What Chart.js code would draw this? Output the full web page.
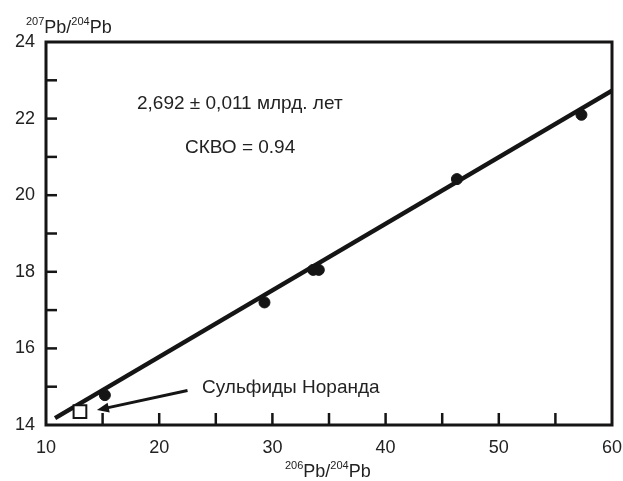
<!DOCTYPE html>
<html>
<head>
<meta charset="utf-8">
<script src="https://cdn.jsdelivr.net/npm/chart.js@4.4.0/dist/chart.umd.min.js"></script>
<style>
  html, body { margin: 0; padding: 0; background: #fff; }
  #wrap { width: 623px; height: 481px; }
</style>
</head>
<body>
<div id="wrap"><canvas id="isoChart"></canvas></div>
<script>
// measured samples, 206Pb/204Pb vs 207Pb/204Pb
const sampleX = [15.2, 29.3, 33.6, 34.1, 46.3, 57.3];
const sampleY = [14.78, 17.2, 18.05, 18.05, 20.42, 22.1];
// Noranda sulfides
const sulfideX = [13.0];
const sulfideY = [14.35];
// isochron fit endpoints
const fitX = [10.8, 60];
const fitY = [14.18, 22.73];
// arrow from label to sulfide point
const arrowX = [22.5, 14.5];
const arrowY = [14.9, 14.39];

const xTicks = [10, 20, 30, 40, 50, 60];
const yTicks = [14, 16, 18, 20, 22, 24];

const ink = '#151515';
const fontFam = '"Liberation Sans", Arial, sans-serif';

function toPoints(xs, ys) {
    return xs.map((x, i) => ({ x: x, y: ys[i] }));
}

// draws text like 207Pb/204Pb with small superscripts
function drawIsoLabel(ctx, x, baseline, a, b) {
    const parts = [[a, true], ['Pb/', false], [b, true], ['Pb', false]];
    let cx = x;
    parts.forEach(p => {
        ctx.font = (p[1] ? '11px ' : '18px ') + fontFam;
        ctx.fillText(p[0], cx, p[1] ? baseline - 8 : baseline);
        cx += ctx.measureText(p[0]).width;
    });
}

const framePlugin = {
    id: 'frame',
    afterDatasetsDraw(chart) {
        const ctx = chart.ctx;
        const a = chart.chartArea;
        const xs = chart.scales.x;
        const ys = chart.scales.y;
        ctx.save();
        ctx.strokeStyle = ink;
        ctx.fillStyle = ink;

        // inward ticks
        ctx.lineWidth = 2.5;
        xs.ticks.forEach(t => {
            const px = xs.getPixelForValue(t.value);
            if (px <= a.left + 2 || px >= a.right - 2) return;
            ctx.beginPath();
            ctx.moveTo(px, a.bottom);
            ctx.lineTo(px, a.bottom - 12);
            ctx.stroke();
        });
        ys.ticks.forEach(t => {
            const py = ys.getPixelForValue(t.value);
            if (py <= a.top + 2 || py >= a.bottom - 2) return;
            ctx.beginPath();
            ctx.moveTo(a.left, py);
            ctx.lineTo(a.left + 11, py);
            ctx.stroke();
        });

        // frame
        ctx.lineWidth = 3;
        ctx.strokeRect(a.left, a.top, a.right - a.left, a.bottom - a.top);

        // arrow
        const x0 = xs.getPixelForValue(arrowX[0]), y0 = ys.getPixelForValue(arrowY[0]);
        const x1 = xs.getPixelForValue(arrowX[1]), y1 = ys.getPixelForValue(arrowY[1]);
        const ang = Math.atan2(y1 - y0, x1 - x0);
        ctx.lineWidth = 3;
        ctx.beginPath();
        ctx.moveTo(x0, y0);
        ctx.lineTo(x1 - 8 * Math.cos(ang), y1 - 8 * Math.sin(ang));
        ctx.stroke();
        ctx.beginPath();
        ctx.moveTo(x1, y1);
        ctx.lineTo(x1 - 12 * Math.cos(ang) + 5 * Math.sin(ang), y1 - 12 * Math.sin(ang) - 5 * Math.cos(ang));
        ctx.lineTo(x1 - 12 * Math.cos(ang) - 5 * Math.sin(ang), y1 - 12 * Math.sin(ang) + 5 * Math.cos(ang));
        ctx.closePath();
        ctx.fill();

        // texts
        ctx.fillStyle = '#222';
        ctx.textBaseline = 'alphabetic';
        ctx.textAlign = 'left';
        ctx.font = '19px ' + fontFam;
        ctx.fillText('2,692 \u00b1 0,011 млрд. лет', 137, 109);
        ctx.fillText('СКВО = 0.94', 185, 153);
        ctx.fillText('Сульфиды Норанда', 202, 393);

        drawIsoLabel(ctx, 26, 33, '207', '204');
        drawIsoLabel(ctx, 285, 477, '206', '204');
        ctx.restore();
    }
};

const ctx = document.getElementById('isoChart').getContext('2d');
const isoChart = new Chart(ctx, {
    type: 'scatter',
    data: {
        datasets: [
            {
                label: 'Isochron',
                type: 'line',
                data: toPoints(fitX, fitY),
                borderColor: ink,
                borderWidth: 4.5,
                pointRadius: 0,
                fill: false,
                tension: 0,
                order: 3
            },
            {
                label: 'Samples',
                data: toPoints(sampleX, sampleY),
                backgroundColor: ink,
                borderColor: ink,
                pointRadius: 5.5,
                pointStyle: 'circle',
                order: 2
            },
            {
                label: 'Сульфиды Норанда',
                data: toPoints(sulfideX, sulfideY),
                backgroundColor: '#fff',
                borderColor: ink,
                borderWidth: 2,
                pointRadius: 9,
                pointStyle: 'rect',
                order: 1
            }
        ]
    },
    options: {
        responsive: true,
        maintainAspectRatio: false,
        animation: false,
        layout: { padding: { left: 0, top: 42, right: 11, bottom: 0 } },
        plugins: {
            legend: { display: false },
            tooltip: { enabled: false }
        },
        scales: {
            x: {
                type: 'linear',
                min: 10,
                max: 60,
                border: { display: false },
                grid: { display: false, drawTicks: false },
                afterFit(scale) {
                    scale.height = 56;
                    scale.paddingLeft = 0;
                    scale.paddingRight = 0;
                },
                ticks: {
                    stepSize: 5,
                    padding: 12,
                    color: '#222',
                    font: { size: 18, family: fontFam },
                    callback: v => xTicks.includes(v) ? String(v) : ''
                }
            },
            y: {
                type: 'linear',
                min: 14,
                max: 24,
                border: { display: false },
                grid: { display: false, drawTicks: false },
                afterFit(scale) {
                    scale.width = 46;
                    scale.paddingTop = 0;
                    scale.paddingBottom = 0;
                },
                ticks: {
                    stepSize: 1,
                    padding: 11,
                    color: '#222',
                    font: { size: 18, family: fontFam },
                    callback: v => yTicks.includes(v) ? String(v) : ''
                }
            }
        }
    },
    plugins: [framePlugin]
});
</script>
</body>
</html>
